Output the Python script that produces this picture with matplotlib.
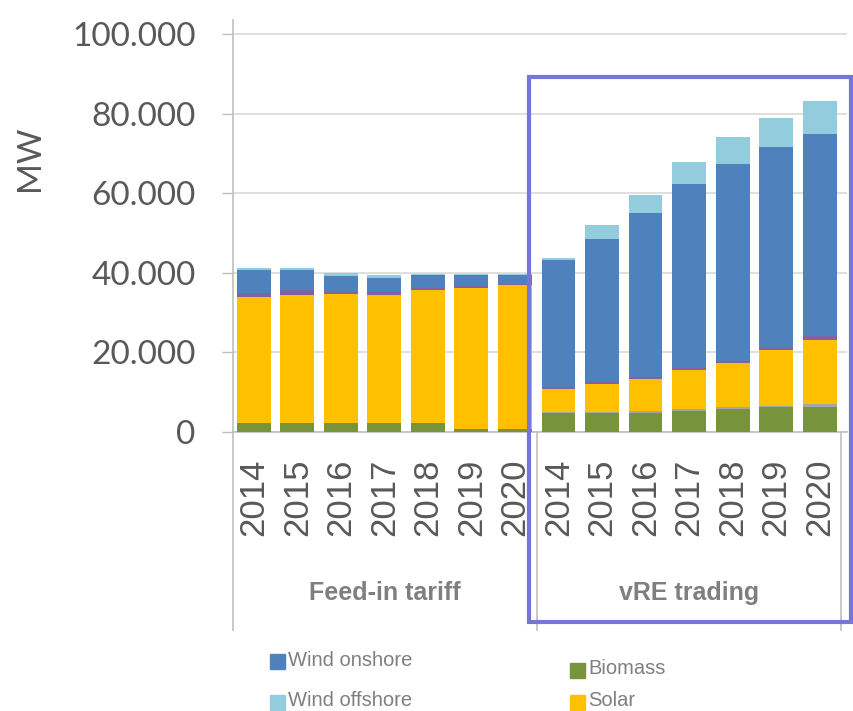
import numpy as np
import matplotlib
matplotlib.use("Agg")
import matplotlib.pyplot as plt
from matplotlib.patches import Rectangle
from matplotlib.lines import Line2D

# capacity per scheme and year, MW
years = ["2014", "2015", "2016", "2017", "2018", "2019", "2020"]
groups = ["Feed-in tariff", "vRE trading"]

biomass = [2200, 2200, 2200, 2200, 2200, 700, 700,
           4750, 4750, 4700, 5200, 5900, 6300, 6400]
other = [0, 0, 0, 0, 0, 0, 0,
         200, 200, 600, 550, 300, 200, 600]
solar = [31700, 32300, 32500, 32300, 33550, 35500, 36300,
         5800, 7050, 7950, 9850, 11200, 14000, 16000]
hydro = [1000, 1250, 500, 600, 350, 600, 300,
         650, 600, 550, 600, 400, 700, 1100]
wind_on = [5700, 5000, 4100, 3600, 3400, 2700, 2200,
           31850, 35800, 41100, 46050, 49400, 50400, 50800]
wind_off = [600, 450, 600, 800, 200, 100, 100,
            550, 3700, 4600, 5650, 6900, 7300, 8200]

layers = [
    (biomass, "#77933C"),
    (other, "#A5A5A5"),
    (solar, "#FFC000"),
    (hydro, "#8064A2"),
    (wind_on, "#4F81BD"),
    (wind_off, "#93CDDD"),
]

W, H = 854, 711
fig = plt.figure(figsize=(W / 100, H / 100), dpi=100)
ax = fig.add_axes([233 / W, 1 - 432 / H, (847 - 233) / W, (432 - 20) / H])

x = np.arange(len(years) * len(groups))
bottom = np.zeros(len(x))
for vals, col in layers:
    vals = np.array(vals, dtype=float)
    ax.bar(x, vals, width=0.78, bottom=bottom, color=col, linewidth=0, zorder=3)
    bottom += vals

ax.set_xlim(-0.48, 13.63)
ax.set_ylim(0, 103500)
ax.set_yticks(np.arange(0, 100001, 20000))
ax.set_yticklabels(["0", "20.000", "40.000", "60.000", "80.000", "100.000"],
                   family="Lato", fontsize=24, color="#595959")
ax.yaxis.grid(True, color="#D9D9D9", linewidth=1.2, zorder=0)
ax.tick_params(axis="y", length=8, width=1, color="#BFBFBF", pad=19)
ax.set_ylabel("MW", family="Lato", fontsize=24, color="#595959")
ax.yaxis.set_label_coords(-0.306, 0.665)

ax.set_xticks(x)
ax.set_xticklabels(years * len(groups), rotation=90, family="Liberation Sans",
                   fontsize=25, color="#595959")
ax.tick_params(axis="x", length=0, pad=19)

for s in ["top", "right"]:
    ax.spines[s].set_visible(False)
ax.spines["left"].set_color("#BFBFBF")
ax.spines["bottom"].set_color("#BFBFBF")
ax.spines["left"].set_linewidth(1.2)
ax.spines["bottom"].set_linewidth(1.2)

# category separators and group labels below the axis
tr = ax.get_xaxis_transform()
for sx in [-0.48, 6.5, 13.5]:
    ax.add_line(Line2D([sx, sx], [0, -0.48], transform=tr, color="#BFBFBF",
                       linewidth=1.2, clip_on=False))
for gx, name in zip([3, 10], groups):
    ax.text(gx, -0.39, name, transform=tr, ha="center", va="center",
            family="Liberation Sans", fontweight="bold", fontsize=18,
            color="#7F7F7F")

# highlight frame around the trading scheme
fig.add_artist(Rectangle((529 / W, 1 - 622 / H), (851 - 529) / W, (622 - 77) / H,
                         transform=fig.transFigure, fill=False,
                         edgecolor="#7676D6", linewidth=3))

# legend
legend_items = [
    ("Wind onshore", "#4F81BD", 270, 669),
    ("Wind offshore", "#93CDDD", 270, 710),
    ("Biomass", "#77933C", 570, 678),
    ("Solar", "#FFC000", 570, 710),
]
for label, col, px, py in legend_items:
    fig.add_artist(Rectangle((px / W, 1 - py / H), 15 / W, 15 / H,
                             transform=fig.transFigure, color=col))
    fig.text((px + 18) / W, 1 - (py - 9) / H, label, ha="left", va="center",
             family="Liberation Sans", fontsize=14.5, color="#7F7F7F")

fig.savefig("out.png", dpi=100)
